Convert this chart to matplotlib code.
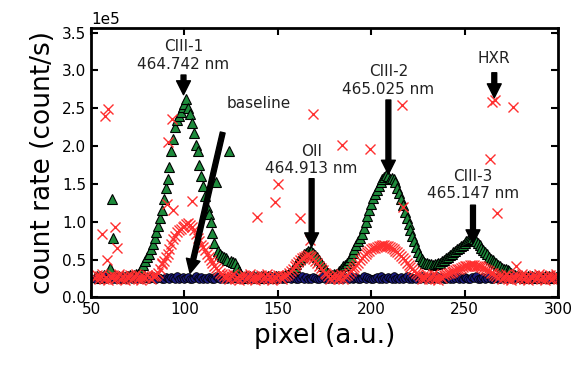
import numpy as np
import matplotlib
matplotlib.use('Agg')
import matplotlib.pyplot as plt

# pixel axis (one point per detector pixel)
pixel = np.arange(52, 301)

# count rates, in units of 1e5 count/s
green = [
    0.27, 0.29, 0.26, 0.28, 0.27, 0.30, 0.28, 0.33, 0.39, 1.30,   # 52
    0.79, 0.30, 0.27, 0.29, 0.26, 0.28, 0.27, 0.29, 0.28, 0.30,   # 62
    0.29, 0.30, 0.31, 0.31, 0.34, 0.38, 0.43, 0.48, 0.53, 0.58,   # 72
    0.64, 0.71, 0.78, 0.86, 0.95, 1.05, 1.16, 1.30, 1.45, 1.57,   # 82
    1.72, 1.93, 2.10, 2.25, 2.35, 2.40, 2.45, 2.52, 2.56, 2.62,   # 92
    2.50, 2.42, 2.30, 2.17, 2.02, 1.93, 1.75, 1.60, 1.47, 1.34,   # 102
    1.20, 1.10, 1.00, 0.85, 0.72, 1.52, 0.62, 0.58, 0.55, 0.54,   # 112
    0.52, 0.50, 1.93, 0.48, 0.47, 0.46, 0.40, 0.35, 0.31, 0.29,   # 122
    0.27, 0.28, 0.26, 0.29, 0.27, 0.28, 0.26, 0.28, 0.27, 0.29,   # 132
    0.28, 0.26, 0.27, 0.29, 0.28, 0.27, 0.26, 0.28, 0.29, 0.27,   # 142
    0.28, 0.29, 0.30, 0.30, 0.32, 0.34, 0.37, 0.40, 0.44, 0.48,   # 152
    0.51, 0.54, 0.57, 0.59, 0.61, 0.62, 0.61, 0.59, 0.56, 0.53,   # 162
    0.49, 0.45, 0.41, 0.38, 0.35, 0.32, 0.30, 0.30, 0.31, 0.31,   # 172
    0.33, 0.35, 0.38, 0.41, 0.43, 0.46, 0.50, 0.54, 0.59, 0.64,   # 182
    0.69, 0.74, 0.79, 0.84, 0.92, 1.00, 1.08, 1.16, 1.24, 1.31,   # 192
    1.37, 1.42, 1.47, 1.52, 1.56, 1.59, 1.62, 1.60, 1.57, 1.58,   # 202
    1.56, 1.52, 1.45, 1.38, 1.30, 1.22, 1.13, 1.05, 0.97, 0.89,   # 212
    0.81, 0.74, 0.67, 0.60, 0.55, 0.51, 0.48, 0.46, 0.45, 0.44,   # 222
    0.44, 0.43, 0.44, 0.44, 0.45, 0.46, 0.48, 0.50, 0.52, 0.54,   # 232
    0.56, 0.58, 0.60, 0.62, 0.64, 0.66, 0.68, 0.70, 0.72, 0.74,   # 242
    0.76, 0.77, 0.78, 0.77, 0.75, 0.72, 0.69, 0.66, 0.63, 0.60,   # 252
    0.57, 0.54, 0.51, 0.49, 0.47, 0.45, 0.43, 0.41, 0.39, 0.38,   # 262
    0.37, 0.36, 0.35, 0.33, 0.31, 0.30, 0.29, 0.28, 0.27, 0.28,   # 272
    0.26, 0.27, 0.29, 0.27, 0.28, 0.26, 0.27, 0.28, 0.29, 0.27,   # 282
    0.26, 0.28, 0.27, 0.29, 0.27, 0.28, 0.26, 0.27, 0.28,         # 292
]

blue = [
    0.25, 0.27, 0.24, 0.26, 0.25, 0.28, 0.24, 0.26, 0.27, 0.25,
    0.26, 0.24, 0.27, 0.25, 0.28, 0.26, 0.24, 0.25, 0.27, 0.26,
    0.24, 0.26, 0.25, 0.27, 0.28, 0.25, 0.24, 0.26, 0.27, 0.25,
    0.26, 0.28, 0.24, 0.25, 0.27, 0.26, 0.25, 0.24, 0.27, 0.26,
    0.25, 0.27, 0.26, 0.24, 0.28, 0.25, 0.26, 0.27, 0.24, 0.26,
    0.27, 0.25, 0.24, 0.26, 0.28, 0.26, 0.25, 0.27, 0.24, 0.26,
    0.25, 0.27, 0.26, 0.24, 0.25, 0.28, 0.26, 0.25, 0.27, 0.24,
    0.26, 0.25, 0.27, 0.24, 0.26, 0.28, 0.25, 0.26, 0.24, 0.27,
    0.25, 0.26, 0.28, 0.24, 0.25, 0.27, 0.26, 0.24, 0.26, 0.25,
    0.27, 0.24, 0.26, 0.25, 0.28, 0.26, 0.27, 0.24, 0.25, 0.26,
    0.24, 0.27, 0.25, 0.26, 0.28, 0.24, 0.26, 0.27, 0.25, 0.24,
    0.26, 0.28, 0.25, 0.27, 0.24, 0.26, 0.25, 0.27, 0.26, 0.24,
    0.25, 0.26, 0.28, 0.24, 0.27, 0.25, 0.26, 0.24, 0.27, 0.25,
    0.28, 0.26, 0.24, 0.25, 0.27, 0.26, 0.25, 0.28, 0.24, 0.26,
    0.27, 0.25, 0.24, 0.26, 0.28, 0.25, 0.27, 0.26, 0.24, 0.25,
    0.26, 0.27, 0.25, 0.28, 0.24, 0.26, 0.25, 0.27, 0.26, 0.24,
    0.28, 0.25, 0.26, 0.24, 0.27, 0.25, 0.26, 0.28, 0.24, 0.27,
    0.25, 0.26, 0.24, 0.27, 0.25, 0.28, 0.26, 0.24, 0.26, 0.25,
    0.27, 0.24, 0.26, 0.28, 0.25, 0.26, 0.27, 0.24, 0.25, 0.26,
    0.24, 0.27, 0.25, 0.26, 0.28, 0.24, 0.26, 0.25, 0.27, 0.26,
    0.25, 0.24, 0.27, 0.26, 0.28, 0.25, 0.24, 0.26, 0.27, 0.25,
    0.26, 0.28, 0.24, 0.25, 0.27, 0.26, 0.25, 0.24, 0.27, 0.26,
    0.25, 0.27, 0.26, 0.24, 0.28, 0.25, 0.26, 0.27, 0.24, 0.26,
    0.27, 0.25, 0.24, 0.26, 0.28, 0.26, 0.25, 0.27, 0.24, 0.26,
    0.25, 0.27, 0.26, 0.24, 0.25, 0.28, 0.26, 0.25, 0.27,
]

red = [
    0.26, 0.30, 0.24, 0.28, 0.31, 0.25, 0.27, 0.23, 0.29, 0.26,   # 52
    0.30, 0.24, 0.27, 0.31, 0.25, 0.28, 0.23, 0.29, 0.26, 0.30,   # 62
    0.24, 0.27, 0.31, 0.25, 0.28, 0.23, 0.29, 0.26, 0.30, 0.27,   # 72
    0.25, 0.29, 0.28, 0.30, 0.33, 0.38, 0.44, 0.48, 0.53, 0.58,   # 82
    0.64, 0.71, 0.77, 0.81, 0.86, 0.89, 0.91, 0.93, 0.95, 0.97,   # 92
    0.98, 0.96, 0.93, 0.89, 0.84, 0.79, 0.74, 0.70, 0.67, 0.63,   # 102
    0.58, 0.54, 0.50, 0.46, 0.42, 0.39, 0.36, 0.33, 0.31, 0.29,   # 112
    0.26, 0.30, 0.24, 0.28, 0.31, 0.25, 0.27, 0.23, 0.29, 0.26,   # 122
    0.30, 0.24, 0.27, 0.31, 0.25, 0.28, 0.23, 0.29, 0.26, 0.30,   # 132
    0.24, 0.27, 0.31, 0.25, 0.28, 0.23, 0.29, 0.26, 0.30, 0.27,   # 142
    0.25, 0.29, 0.28, 0.30, 0.32, 0.35, 0.38, 0.41, 0.44, 0.47,   # 152
    0.50, 0.52, 0.54, 0.55, 0.56, 0.55, 0.53, 0.51, 0.48, 0.45,   # 162
    0.42, 0.39, 0.36, 0.33, 0.31, 0.28, 0.25, 0.29, 0.26, 0.30,   # 172
    0.24, 0.27, 0.31, 0.25, 0.28, 0.30, 0.32, 0.35, 0.37, 0.40,   # 182
    0.43, 0.46, 0.49, 0.52, 0.55, 0.58, 0.60, 0.62, 0.64, 0.65,   # 192
    0.66, 0.67, 0.68, 0.68, 0.69, 0.69, 0.68, 0.68, 0.67, 0.66,   # 202
    0.64, 0.62, 0.60, 0.58, 0.55, 0.52, 0.49, 0.46, 0.43, 0.40,   # 212
    0.38, 0.35, 0.33, 0.31, 0.28, 0.25, 0.29, 0.26, 0.30, 0.24,   # 222
    0.27, 0.31, 0.25, 0.28, 0.23, 0.29, 0.26, 0.30, 0.31, 0.32,   # 232
    0.33, 0.34, 0.35, 0.36, 0.37, 0.38, 0.39, 0.40, 0.41, 0.42,   # 242
    0.42, 0.43, 0.43, 0.43, 0.42, 0.42, 0.41, 0.40, 0.39, 0.38,   # 252
    0.36, 0.35, 0.33, 0.32, 0.30, 0.29, 0.26, 0.30, 0.24, 0.27,   # 262
    0.31, 0.25, 0.28, 0.23, 0.29, 0.26, 0.30, 0.24, 0.27, 0.31,   # 272
    0.25, 0.28, 0.23, 0.29, 0.26, 0.30, 0.24, 0.27, 0.31, 0.25,   # 282
    0.28, 0.23, 0.29, 0.26, 0.30, 0.24, 0.27, 0.31, 0.25,         # 292
]

# scattered spikes of the red series
red_spike_x = [55.7, 57.5, 58.4, 59.3, 62.8, 63.7, 87.8, 90.5, 91.4, 93.2,
               94.0, 103.9, 138.7, 148.5, 150.3, 161.9, 167.0, 169.0, 184.2,
               199.5, 216.3, 217.2, 263.6, 264.5, 266.3, 267.1, 276.1, 277.8]
red_spike_y = [0.84, 2.40, 0.49, 2.49, 0.93, 0.65, 0.45, 1.24, 2.05, 2.36,
               1.15, 1.28, 1.06, 1.26, 1.50, 1.05, 0.76, 2.42, 2.01,
               1.96, 2.55, 1.19, 1.83, 2.58, 2.61, 1.11, 2.52, 0.42]

# line labels: (text, x, text y, arrow start y, arrow tip y) in 1e5 units
lines = [
    ('CIII-1\n464.742 nm', 99.5, 3.20, 2.94, 2.68),
    ('OII\n464.913 nm', 168.1, 1.82, 1.57, 0.67),
    ('CIII-2\n465.025 nm', 209.2, 2.87, 2.61, 1.63),
    ('CIII-3\n465.147 nm', 254.5, 1.49, 1.22, 0.71),
    ('HXR', 265.9, 3.16, 2.97, 2.64),
]

scale = 1e5

fig = plt.figure(figsize=(5.8, 3.7), dpi=100)
ax = fig.add_axes([0.157, 0.196, 0.805, 0.728])

ax.plot(pixel, np.array(green) * scale, '^', color='#1e8b3c', mec='black',
        mew=0.8, ms=7)
ax.plot(pixel, np.array(blue) * scale, 'o', color='#1c1c80', mec='black',
        mew=0.6, ms=5.5)
ax.plot(pixel, np.array(red) * scale, 'x', color='#ff3030', mew=1.0, ms=7)
ax.plot(red_spike_x, np.array(red_spike_y) * scale, 'x', color='#ff3030',
        mew=1.0, ms=7)

arrow = dict(facecolor='black', edgecolor='black', width=3.5, headwidth=10,
             headlength=10, shrink=0)
for text, xl, ty, y0, y1 in lines:
    ax.annotate('', xy=(xl, y1 * scale), xytext=(xl, y0 * scale),
                arrowprops=arrow)
    ax.text(xl, ty * scale, text, ha='center', va='center', fontsize=11,
            color='#222222')

ax.annotate('', xy=(103, 0.32 * scale), xytext=(120.5, 2.18 * scale),
            arrowprops=arrow)
ax.text(139.9, 2.56 * scale, 'baseline', ha='center', va='center',
        fontsize=11, color='#222222')

ax.set_xlim(50, 300)
ax.set_ylim(0, 3.56e5)
ax.set_xticks([50, 100, 150, 200, 250, 300])
ax.set_yticks(np.arange(0, 3.51e5, 0.5e5))
ax.ticklabel_format(axis='y', style='sci', scilimits=(0, 0))
ax.yaxis.get_offset_text().set_fontsize(11)
ax.tick_params(direction='in', top=True, right=True, length=5, width=1.5,
               labelsize=11)
for s in ax.spines.values():
    s.set_linewidth(2)
ax.set_xlabel('pixel (a.u.)', fontsize=19)
ax.set_ylabel('count rate (count/s)', fontsize=19)

fig.savefig('out.png', dpi=100)
